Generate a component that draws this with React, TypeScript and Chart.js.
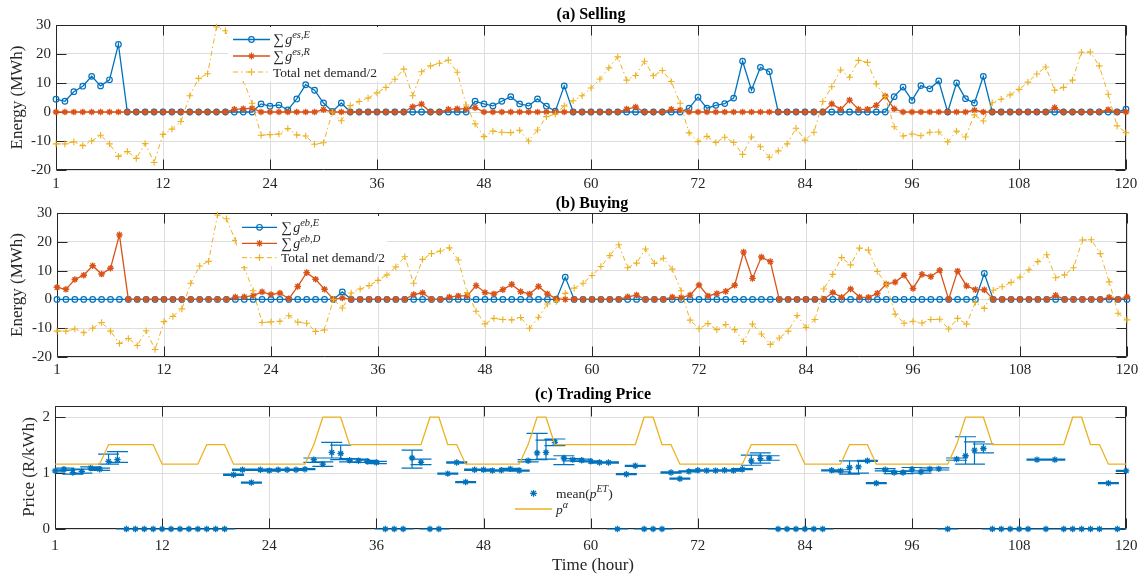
import React, { useEffect, useRef } from 'react';
import { Chart, registerables } from 'chart.js';

Chart.register(...registerables);

const BLUE = '#0072BD';
const ORANGE = '#D95319';
const YELLOW = '#EDB120';
const AXIS = '#262626';
const GRID = '#dedede';
const SERIF = '"Liberation Serif", "Times New Roman", Times, serif';

// ---------- data ----------
const hours = Array.from({ length: 121 }, (_, i) => i);
const xTickValues = [0, 12, 24, 36, 48, 60, 72, 84, 96, 108, 120];
const xTickLabels = ['1', '12', '24', '36', '48', '60', '72', '84', '96', '108', '120'];
const energyTicks = [-20, -10, 0, 10, 20, 30];
const priceTicks = [0, 1, 2];

// (a) Selling
const sellE = [
  4.4, 3.7, 7.0, 8.9, 12.3, 9.0, 11.1, 23.3,
  0, 0, 0, 0, 0, 0, 0, 0, 0, 0, 0, 0, 0, 0, 0,
  2.8, 2.0, 2.4, 0.7, 4.5, 9.4, 7.5, 3.1, 0.2, 3.1,
  0, 0, 0, 0, 0, 0, 0, 0, 0, 0, 0, 0, 0, 0,
  3.7, 2.8, 2.1, 3.7, 5.3, 2.8, 2.1, 4.5, 2.0, 0.3, 9.0,
  0, 0, 0, 0, 0, 0, 0, 0, 0, 0, 0, 0, 0,
  1.3, 5.1, 1.3, 2.3, 2.9, 4.8, 17.5, 7.6, 15.4, 13.9,
  0, 0, 0, 0, 0, 0, 0, 0, 0, 0, 0, 0, 0,
  5.3, 8.6, 4.0, 9.1, 8.0, 10.7, 0, 10.0, 4.6, 3.1, 12.3,
  0, 0, 0, 0, 0, 0, 0, 0, 0, 0, 0, 0, 0, 0, 0,
  1.0,
];
const sellR = [
  0, 0, 0, 0, 0, 0, 0, 0, 0, 0, 0, 0, 0, 0, 0, 0, 0, 0, 0, 0,
  0.9, 1.1, 1.3,
  0, 0, 0, 0, 0, 0, 0,
  0.8,
  0, 0, 0, 0, 0, 0, 0, 0, 0,
  1.8, 2.7, 0, 0, 0.9, 1.1, 1.1, 1.5,
  0, 0, 0, 0, 0, 0, 0, 0, 0, 0, 0, 0, 0, 0, 0, 0,
  1.0, 1.7,
  0, 0, 0,
  0.9, 0.7,
  0, 0, 0, 0, 0, 0, 0, 0, 0, 0, 0, 0, 0, 0, 0, 0,
  2.8, 0.9, 4.1, 0.9, 0.9, 2.3, 5.5, 1.1,
  0, 0, 0, 0, 0, 0, 0, 0,
  0.6,
  0, 0, 0, 0, 0, 0, 0, 0,
  1.5,
  0, 0, 0, 0, 0,
  0.8, 0, 0,
];
const netDemandHalf = [
  -11.0, -11.0, -10.3, -11.6, -10.0, -8.0, -11.0, -15.3, -13.6, -16.0,
  -10.9, -17.4, -7.7, -5.9, -3.3, 5.6, 11.6, 13.2, 29.3, 28.0,
  20.5, 11.0, 3.0, -8.0, -7.8, -7.6, -5.7, -7.9, -8.3, -11.1,
  -10.6, 0.0, -3.0, 2.2, 3.6, 4.8, 6.6, 8.5, 11.3, 14.8,
  5.6, 13.9, 15.9, 16.8, 17.9, 13.7, 2.4, -4.1, -8.5, -6.6,
  -7.0, -7.1, -6.3, -10.0, -6.2, -1.6, -0.7, 2.1, 3.9, 5.6,
  8.3, 11.4, 15.2, 19.0, 11.0, 12.6, 17.5, 12.5, 14.3, 10.5,
  3.0, -7.2, -10.2, -8.4, -10.5, -8.7, -10.5, -14.6, -8.6, -12.0,
  -15.6, -13.4, -11.0, -5.6, -9.7, -7.0, 3.6, 8.7, 14.5, 12.0,
  17.8, 17.1, 9.7, 5.3, -5.1, -8.3, -7.6, -8.2, -7.0, -6.9,
  -10.3, -6.6, -8.6, -1.0, -3.1, 3.2, 4.4, 5.9, 7.8, 10.3,
  13.1, 15.5, 7.5, 8.5, 11.0, 20.6, 20.7, 15.9, 6.1, -4.8,
  -7.1,
];

// (b) Buying
const buyE = [
  0, 0, 0, 0, 0, 0, 0, 0, 0, 0, 0, 0, 0, 0, 0, 0, 0, 0, 0, 0, 0, 0, 0, 0, 0, 0, 0, 0, 0, 0, 0, 0,
  2.6,
  0, 0, 0, 0, 0, 0, 0, 0, 0, 0, 0, 0, 0, 0, 0, 0, 0, 0, 0, 0, 0, 0, 0, 0,
  7.7,
  0, 0, 0, 0, 0, 0, 0, 0, 0, 0, 0, 0, 0, 0, 0, 0, 0, 0, 0, 0, 0, 0, 0,
  0, 0, 0, 0, 0, 0, 0, 0, 0, 0, 0, 0, 0, 0, 0, 0, 0, 0, 0, 0, 0, 0, 0,
  9.0,
  0, 0, 0, 0, 0, 0, 0, 0, 0, 0, 0, 0, 0, 0, 0, 0,
];
const buyD = [
  4.2, 3.5, 6.9, 8.4, 11.7, 8.8, 10.8, 22.4,
  0, 0, 0, 0, 0, 0, 0, 0, 0, 0, 0, 0,
  0.8, 0.9, 1.3, 2.6, 1.7, 2.2, 0.2, 4.5, 9.3, 7.0, 3.5, 0, 0.5,
  0, 0, 0, 0, 0, 0, 0,
  1.7, 2.3, 0, 0, 0.8, 1.2, 1.2, 4.8, 2.4, 1.9, 3.4, 5.2, 2.7, 1.9, 4.5, 1.9, 0.2,
  0, 0, 0, 0, 0, 0, 0,
  0.9, 1.5,
  0, 0, 0,
  0.8, 0.6, 1.5, 5.0, 1.2, 2.0, 2.8, 4.9, 16.4, 7.3, 14.7, 13.1,
  0, 0, 0, 0, 0, 0,
  2.4, 0.7, 3.6, 0.8, 0.7, 2.1, 5.3, 6.0, 8.4, 3.8, 8.7, 7.9, 10.1, 0, 9.8, 4.7, 3.4, 3.3,
  0, 0, 0, 0, 0, 0, 0,
  1.4,
  0, 0, 0, 0, 0,
  0.7, 0, 0.9,
];

// (c) Trading price
const priceMean = [
  1.04, 1.07, 1.01, 1.03, 1.09, 1.07, 1.21, 1.24,
  0, 0, 0, 0, 0, 0, 0, 0, 0, 0, 0, 0,
  0.97, 1.06, 0.83, 1.06, 1.045, 1.06, 1.06, 1.06, 1.07, 1.24, 1.16, 1.37, 1.35, 1.23, 1.22, 1.21, 1.19,
  0, 0, 0,
  1.27, 1.19, 0, 0,
  0.99, 1.19, 0.84, 1.06, 1.06, 1.045, 1.05, 1.075, 1.045, 1.22, 1.36, 1.37, 1.55, 1.27, 1.24, 1.23, 1.21, 1.19, 1.19,
  0,
  0.98, 1.13,
  0, 0, 0,
  1.01, 0.90, 1.03, 1.05, 1.045, 1.045, 1.05, 1.045, 1.07, 1.22, 1.26, 1.27,
  0, 0, 0, 0, 0, 0,
  1.05, 1.04, 1.10, 1.11, 1.22, 0.82, 1.06, 1.01, 1.01, 1.07, 1.02, 1.075, 1.075,
  0,
  1.25, 1.31, 1.41, 1.44,
  0, 0, 0, 0, 0,
  1.24, 0, 1.24,
  0, 0, 0, 0, 0,
  0.82, 0, 1.04,
];
const priceErrLow = [
  0.02, 0.02, 0.03, 0.03, 0.02, 0.02, 0.05, 0.05,
  0, 0, 0, 0, 0, 0, 0, 0, 0, 0, 0, 0,
  0.01, 0.01, 0.01, 0.01, 0.01, 0.01, 0.01, 0.01, 0.01, 0.05, 0.04, 0.10, 0.11, 0.03, 0.03, 0.02, 0.02,
  0, 0, 0,
  0.18, 0.04, 0, 0,
  0.01, 0.01, 0.01, 0.01, 0.01, 0.01, 0.01, 0.01, 0.01, 0.02, 0.12, 0.12, 0.06, 0.12, 0.02, 0.02, 0.01, 0.01, 0.01,
  0,
  0.01, 0.01,
  0, 0, 0,
  0.01, 0.01, 0.01, 0.01, 0.01, 0.01, 0.01, 0.01, 0.01, 0.08, 0.08, 0.04,
  0, 0, 0, 0, 0, 0,
  0.01, 0.02, 0.12, 0.11, 0.01, 0.01, 0.02, 0.02, 0.02, 0.03, 0.02, 0.02, 0.02,
  0,
  0.02, 0.15, 0.25, 0.08,
  0, 0, 0, 0, 0,
  0.01, 0, 0.01,
  0, 0, 0, 0, 0,
  0.01, 0, 0.01,
];
const priceErrHigh = [
  0.02, 0.02, 0.05, 0.04, 0.02, 0.02, 0.13, 0.145,
  0, 0, 0, 0, 0, 0, 0, 0, 0, 0, 0, 0,
  0.01, 0.01, 0.01, 0.01, 0.01, 0.01, 0.01, 0.01, 0.01, 0.03, 0.04, 0.18, 0.15, 0.03, 0.03, 0.02, 0.02,
  0, 0, 0,
  0.14, 0.06, 0, 0,
  0.01, 0.01, 0.01, 0.01, 0.01, 0.01, 0.01, 0.01, 0.01, 0.02, 0.35, 0.22, 0.06, 0.04, 0.02, 0.02, 0.01, 0.01, 0.01,
  0,
  0.01, 0.01,
  0, 0, 0,
  0.01, 0.01, 0.01, 0.01, 0.01, 0.01, 0.01, 0.01, 0.01, 0.10, 0.10, 0.04,
  0, 0, 0, 0, 0, 0,
  0.01, 0.02, 0.12, 0.11, 0.01, 0.01, 0.02, 0.02, 0.02, 0.03, 0.02, 0.02, 0.02,
  0,
  0.02, 0.34, 0.15, 0.08,
  0, 0, 0, 0, 0,
  0.01, 0, 0.01,
  0, 0, 0, 0, 0,
  0.01, 0, 0.01,
];
const pAlpha = [
  1.16, 1.16, 1.16, 1.16, 1.16, 1.16,
  1.51, 1.51, 1.51, 1.51, 1.51, 1.51,
  1.16, 1.16, 1.16, 1.16, 1.16,
  1.51, 1.51, 1.51,
  1.16, 1.16, 1.16, 1.16, 1.16, 1.16, 1.16, 1.16, 1.16,
  1.51,
  2, 2, 2,
  1.51, 1.51, 1.51, 1.51, 1.51, 1.51, 1.51, 1.51, 1.51,
  2, 2,
  1.51, 1.51,
  1.16, 1.16, 1.16, 1.16, 1.16, 1.16, 1.16,
  1.51,
  2, 2,
  1.51, 1.51, 1.51, 1.51, 1.51, 1.51, 1.51, 1.51, 1.51, 1.51,
  2, 2,
  1.51, 1.51,
  1.16, 1.16, 1.16, 1.16, 1.16, 1.16, 1.16, 1.16,
  1.51, 1.51, 1.51, 1.51, 1.51, 1.51,
  1.16, 1.16, 1.16, 1.16, 1.16,
  1.51, 1.51, 1.51,
  1.16, 1.16, 1.16, 1.16, 1.16, 1.16, 1.16, 1.16, 1.16,
  1.51,
  2, 2, 2,
  1.51, 1.51, 1.51, 1.51, 1.51, 1.51, 1.51, 1.51, 1.51,
  2, 2,
  1.51, 1.51,
  1.16, 1.16, 1.16,
];

// ---------- helpers ----------
const toXY = (vals: number[]) => vals.map((v, i) => ({ x: hours[i], y: v }));

type Part = { t: string; it?: boolean; sup?: boolean; size?: number };

function drawRich(ctx: CanvasRenderingContext2D, x: number, baseline: number, parts: Part[], base: number) {
  let cx = x;
  ctx.textAlign = 'left';
  ctx.textBaseline = 'alphabetic';
  for (const p of parts) {
    const size = p.size ?? (p.sup ? base * 0.75 : base);
    ctx.font = `${p.it ? 'italic ' : ''}${size}px ${SERIF}`;
    const dy = p.sup ? -base * 0.42 : 0;
    ctx.fillText(p.t, cx, baseline + dy);
    cx += ctx.measureText(p.t).width;
  }
}

function drawMarker(ctx: CanvasRenderingContext2D, style: string, x: number, y: number, r: number, color: string) {
  ctx.save();
  ctx.strokeStyle = color;
  ctx.lineWidth = 1.2;
  ctx.setLineDash([]);
  ctx.beginPath();
  if (style === 'circle') {
    ctx.arc(x, y, r, 0, Math.PI * 2);
  } else if (style === 'star') {
    for (let k = 0; k < 4; k++) {
      const a = (k * Math.PI) / 4;
      ctx.moveTo(x - r * Math.cos(a), y - r * Math.sin(a));
      ctx.lineTo(x + r * Math.cos(a), y + r * Math.sin(a));
    }
  } else {
    ctx.moveTo(x - r, y);
    ctx.lineTo(x + r, y);
    ctx.moveTo(x, y - r);
    ctx.lineTo(x, y + r);
  }
  ctx.stroke();
  ctx.restore();
}

function drawFrame(chart: any, yTicks: number[]) {
  const { ctx, chartArea } = chart;
  const { left, right, top, bottom } = chartArea;
  const xs = chart.scales.x;
  const ys = chart.scales.y;
  const tl = 10;
  ctx.save();
  ctx.strokeStyle = AXIS;
  ctx.lineWidth = 1;
  ctx.setLineDash([]);
  ctx.beginPath();
  const L = Math.round(left) + 0.5, R = Math.round(right) - 0.5;
  const T = Math.round(top) + 0.5, B = Math.round(bottom) - 0.5;
  ctx.rect(L, T, R - L, B - T);
  for (const v of xTickValues) {
    const px = Math.round(xs.getPixelForValue(v)) + 0.5;
    ctx.moveTo(px, B);
    ctx.lineTo(px, B - tl);
    ctx.moveTo(px, T);
    ctx.lineTo(px, T + tl);
  }
  for (const v of yTicks) {
    const py = Math.round(ys.getPixelForValue(v)) + 0.5;
    ctx.moveTo(L, py);
    ctx.lineTo(L + tl, py);
    ctx.moveTo(R, py);
    ctx.lineTo(R - tl, py);
  }
  ctx.stroke();
  ctx.restore();
}

function drawCenteredText(ctx: CanvasRenderingContext2D, text: string, x: number, y: number, font: string, color: string, rotate = false) {
  ctx.save();
  ctx.font = font;
  ctx.fillStyle = color;
  ctx.textAlign = 'center';
  ctx.textBaseline = 'middle';
  ctx.translate(x, y);
  if (rotate) ctx.rotate(-Math.PI / 2);
  ctx.fillText(text, 0, 0);
  ctx.restore();
}

type LegendRow = { y: number; color: string; marker: string; dash: number[]; width: number; parts: Part[]; line: boolean };

function drawLegend(ctx: CanvasRenderingContext2D, box: number[] | null, lineX0: number, lineX1: number, textX: number, rows: LegendRow[]) {
  ctx.save();
  if (box) {
    ctx.fillStyle = '#ffffff';
    ctx.fillRect(box[0], box[1], box[2], box[3]);
  }
  for (const r of rows) {
    if (r.line) {
      ctx.strokeStyle = r.color;
      ctx.lineWidth = r.width;
      ctx.setLineDash(r.dash);
      ctx.beginPath();
      ctx.moveTo(lineX0, r.y);
      ctx.lineTo(lineX1, r.y);
      ctx.stroke();
      ctx.setLineDash([]);
    }
    if (r.marker) drawMarker(ctx, r.marker, (lineX0 + lineX1) / 2, r.y, r.marker === 'circle' ? 2.8 : 3.4, r.color);
    ctx.fillStyle = AXIS;
    drawRich(ctx, textX, r.y + 4.5, r.parts, 13.5);
  }
  ctx.restore();
}

const tickFont = { family: SERIF, size: 15 };

function xScale(padding: number, height: number) {
  return {
    type: 'linear',
    min: 0,
    max: 120,
    afterBuildTicks: (s: any) => {
      s.ticks = xTickValues.map((v) => ({ value: v }));
    },
    afterFit: (s: any) => {
      s.height = height;
    },
    ticks: {
      font: tickFont,
      color: AXIS,
      padding,
      maxRotation: 0,
      autoSkip: false,
      callback: (v: number) => {
        const k = xTickValues.indexOf(v);
        return k >= 0 ? xTickLabels[k] : '';
      },
    },
    grid: { color: GRID, drawTicks: false, lineWidth: 1 },
    border: { display: false },
  };
}

function yScale(min: number, max: number, ticks: number[], width: number) {
  return {
    type: 'linear',
    min,
    max,
    afterBuildTicks: (s: any) => {
      s.ticks = ticks.map((v) => ({ value: v }));
    },
    afterFit: (s: any) => {
      s.width = width;
    },
    ticks: { font: tickFont, color: AXIS, padding: 5 },
    grid: { color: GRID, drawTicks: false, lineWidth: 1 },
    border: { display: false },
  };
}

function energyConfig(
  blue: number[],
  orange: number[],
  pad: { top: number; right: number },
  yW: number,
  xH: number,
  xPad: number,
  plugin: any
) {
  return {
    type: 'line',
    data: {
      datasets: [
        {
          label: 'Total net demand/2',
          data: toXY(netDemandHalf),
          borderColor: YELLOW,
          backgroundColor: YELLOW,
          borderWidth: 1,
          borderDash: [5, 3, 1.5, 3],
          pointStyle: 'cross',
          pointRadius: 3.3,
          pointBorderWidth: 1.1,
          pointBorderColor: YELLOW,
          order: 0,
          clip: false,
        },
        {
          label: 'orange',
          data: toXY(orange),
          borderColor: ORANGE,
          backgroundColor: ORANGE,
          borderWidth: 1.3,
          pointStyle: 'star',
          pointRadius: 3.3,
          pointBorderWidth: 1.4,
          pointBorderColor: ORANGE,
          pointBackgroundColor: ORANGE,
          order: 1,
          clip: false,
        },
        {
          label: 'blue',
          data: toXY(blue),
          borderColor: BLUE,
          backgroundColor: BLUE,
          borderWidth: 1.3,
          pointStyle: 'circle',
          pointRadius: 2.8,
          pointBorderWidth: 1.2,
          pointBorderColor: BLUE,
          pointBackgroundColor: 'rgba(0,0,0,0)',
          order: 2,
          clip: false,
        },
      ],
    },
    options: {
      responsive: false,
      animation: false,
      events: [],
      layout: { padding: { top: pad.top, right: pad.right, left: 0, bottom: 0 } },
      plugins: { legend: { display: false }, tooltip: { enabled: false }, title: { display: false } },
      scales: {
        x: xScale(xPad, xH),
        y: yScale(-20, 30, energyTicks, yW),
      },
    },
    plugins: [plugin],
  };
}

function demandRow(y: number): LegendRow {
  return { y, color: YELLOW, marker: 'cross', dash: [5, 3, 1.5, 3], width: 1, line: true, parts: [{ t: 'Total net demand/2' }] };
}

function sumParts(sup: string): Part[] {
  return [{ t: '\u2211', size: 15 }, { t: ' ', size: 6 }, { t: 'g', it: true, size: 14 }, { t: sup, it: true, sup: true, size: 10.5 }];
}

export default function App() {
  const r1 = useRef<HTMLCanvasElement>(null);
  const r2 = useRef<HTMLCanvasElement>(null);
  const r3 = useRef<HTMLCanvasElement>(null);

  useEffect(() => {
    const pluginA = {
      id: 'frameA',
      beforeDatasetsDraw(chart: any) {
        drawFrame(chart, energyTicks);
      },
      afterDraw(chart: any) {
        const ctx = chart.ctx;
        drawLegend(ctx, [228, 27, 155, 54], 233, 270, 273, [
          { y: 39.5, color: BLUE, marker: 'circle', dash: [], width: 1.3, line: true, parts: sumParts('es,E') },
          { y: 56, color: ORANGE, marker: 'star', dash: [], width: 1.3, line: true, parts: sumParts('es,R') },
          demandRow(72),
        ]);
        drawCenteredText(ctx, '(a) Selling', 591, 15, `bold 16px ${SERIF}`, '#000');
        drawCenteredText(ctx, 'Energy (MWh)', 18, 97.5, `17px ${SERIF}`, AXIS, true);
      },
    };
    const pluginB = {
      id: 'frameB',
      beforeDatasetsDraw(chart: any) {
        drawFrame(chart, energyTicks);
      },
      afterDraw(chart: any) {
        const ctx = chart.ctx;
        drawLegend(ctx, [237, 21, 150, 50], 242, 277, 281, [
          { y: 32.3, color: BLUE, marker: 'circle', dash: [], width: 1.3, line: true, parts: sumParts('eb,E') },
          { y: 48.3, color: ORANGE, marker: 'star', dash: [], width: 1.3, line: true, parts: sumParts('eb,D') },
          demandRow(62.7),
        ]);
        drawCenteredText(ctx, '(b) Buying', 592, 8.5, `bold 16px ${SERIF}`, '#000');
        drawCenteredText(ctx, 'Energy (MWh)', 18, 90, `17px ${SERIF}`, AXIS, true);
      },
    };
    const CAP = 10.5;
    const pluginC = {
      id: 'frameC',
      beforeDatasetsDraw(chart: any) {
        drawFrame(chart, priceTicks);
        const ctx = chart.ctx;
        const xs = chart.scales.x;
        const ys = chart.scales.y;
        const area = chart.chartArea;
        ctx.save();
        ctx.beginPath();
        ctx.rect(area.left, area.top - 1, area.right - area.left, area.bottom - area.top + 2);
        ctx.clip();
        ctx.strokeStyle = BLUE;
        ctx.lineWidth = 1.2;
        ctx.setLineDash([]);
        ctx.beginPath();
        priceMean.forEach((m, i) => {
          const px = xs.getPixelForValue(hours[i]);
          const yLo = ys.getPixelForValue(m - priceErrLow[i]);
          const yHi = ys.getPixelForValue(m + priceErrHigh[i]);
          ctx.moveTo(px, yLo);
          ctx.lineTo(px, yHi);
          ctx.moveTo(px - CAP, yLo);
          ctx.lineTo(px + CAP, yLo);
          ctx.moveTo(px - CAP, yHi);
          ctx.lineTo(px + CAP, yHi);
        });
        ctx.stroke();
        ctx.restore();
      },
      afterDraw(chart: any) {
        const ctx = chart.ctx;
        drawLegend(ctx, null, 515, 552, 556, [
          { y: 118.3, color: BLUE, marker: 'star', dash: [], width: 1.2, line: false, parts: [{ t: 'mean(' }, { t: 'p', it: true }, { t: 'ET', it: true, sup: true, size: 10 }, { t: ')' }] },
          { y: 134, color: YELLOW, marker: '', dash: [], width: 1.3, line: true, parts: [{ t: 'p', it: true }, { t: '\u03B1', it: true, sup: true, size: 10 }] },
        ]);
        drawCenteredText(ctx, '(c) Trading Price', 593, 20, `bold 16px ${SERIF}`, '#000');
        drawCenteredText(ctx, 'Price (R/kWh)', 30, 92, `17px ${SERIF}`, AXIS, true);
        drawCenteredText(ctx, 'Time (hour)', 593, 191, `17px ${SERIF}`, AXIS);
      },
    };

    const c1 = new Chart(r1.current as HTMLCanvasElement, energyConfig(sellE, sellR, { top: 25, right: 20 }, 56, 25, 5, pluginA) as any);
    const c2 = new Chart(r2.current as HTMLCanvasElement, energyConfig(buyE, buyD, { top: 18, right: 19 }, 57, 18, 4, pluginB) as any);
    const c3 = new Chart(r3.current as HTMLCanvasElement, {
      type: 'line',
      data: {
        datasets: [
          {
            label: 'p_alpha',
            data: toXY(pAlpha),
            borderColor: YELLOW,
            backgroundColor: YELLOW,
            borderWidth: 1.3,
            pointRadius: 0,
            order: 0,
            clip: false,
          },
          {
            label: 'mean',
            data: toXY(priceMean),
            showLine: false,
            borderColor: BLUE,
            backgroundColor: BLUE,
            pointStyle: 'star',
            pointRadius: 3.2,
            pointBorderWidth: 1.3,
            pointBorderColor: BLUE,
            pointBackgroundColor: BLUE,
            order: 1,
            clip: false,
          },
        ],
      },
      options: {
        responsive: false,
        animation: false,
        events: [],
        layout: { padding: { top: 31, right: 15, left: 0, bottom: 0 } },
        plugins: { legend: { display: false }, tooltip: { enabled: false }, title: { display: false } },
        scales: {
          x: xScale(8.5, 49),
          y: yScale(0, 2.2, priceTicks, 55),
        },
      },
      plugins: [pluginC],
    } as any);

    return () => {
      c1.destroy();
      c2.destroy();
      c3.destroy();
    };
  }, []);

  return (
    <div style={{ position: 'fixed', left: 0, top: 0, width: 1146, height: 578, background: '#ffffff', overflow: 'hidden' }}>
      <canvas ref={r1} width={1146} height={195} style={{ position: 'absolute', left: 0, top: 0, width: 1146, height: 195 }} />
      <canvas ref={r2} width={1146} height={180} style={{ position: 'absolute', left: 0, top: 195, width: 1146, height: 180 }} />
      <canvas ref={r3} width={1146} height={203} style={{ position: 'absolute', left: 0, top: 375, width: 1146, height: 203 }} />
    </div>
  );
}
